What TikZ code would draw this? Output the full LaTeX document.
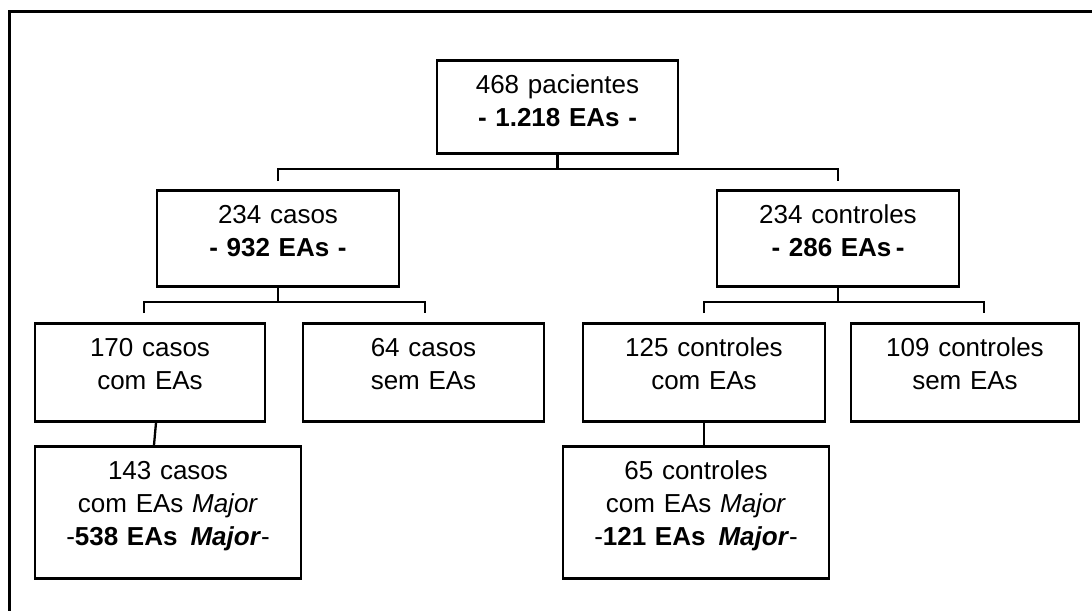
\documentclass[tikz,border=0pt]{standalone}
\usepackage{fontspec}
\setmainfont{Liberation Sans}
\usetikzlibrary{positioning}
\tikzset{
  basic/.style    = {draw, line width=2.8pt, align=center, anchor=north,
                     font=\fontsize{26}{33}\selectfont, inner xsep=4pt,
                     inner ysep=13pt, text height=20pt},
  raiz/.style     = {basic, text width=233pt, text depth=47pt},
  grupo/.style    = {basic, text width=234pt, text depth=50pt},
  subgrupo/.style = {basic, text depth=52pt},
  major/.style    = {basic, text width=258pt, text depth=86pt},
  conector/.style = {line width=2.3pt},
  moldura/.style  = {line width=3pt}
}

\begin{document}
\begin{tikzpicture}[x=1pt, y=-1pt]
\useasboundingbox (0,0) rectangle (1092,611);

% moldura
\draw[moldura] (1092,11) -- (9,11) -- (9,611);

% raiz inicial
\node[raiz] (r) at (557.5,59) {468 pacientes \\ \textbf{- 1.218 EAs -}};

% primeiro nivel
\node[grupo] (c) at (278,189) {234 casos \\ \textbf{- 932 EAs -}};
\node[grupo] (k) at (838,189) {234 controles \\ \textbf{- 286 EAs\,-}};

% segundo nivel
\begin{scope}[every node/.style={subgrupo}]
\node[text width=222pt] (c1) at (150,322) {170 casos \\ com EAs};
\node[text width=233pt] (c2) at (423.5,322) {64 casos \\ sem EAs};
\node[text width=234pt] (k1) at (704,322) {125 controles \\ com EAs};
\node[text width=220pt] (k2) at (965,322) {109 controles \\ sem EAs};
\end{scope}

% casos e controles com EAs Major
\node[major] (c11) at (168,445) {143 casos \\ com EAs \textit{Major} \\
  -\textbf{538 EAs\enspace\textit{Major}}-};
\node[major] (k11) at (696,445) {65 controles \\ com EAs \textit{Major} \\
  -\textbf{121 EAs\enspace\textit{Major}}-};

% pontas soltas acima das caixas
\coordinate (sc) at ([yshift=8pt]c.north);
\coordinate (sk) at ([yshift=8pt]k.north);
\foreach \n/\dx in {c1/-6, c2/1.5, k1/0, k2/19}
  \coordinate (s\n) at ([xshift=\dx pt, yshift=9pt]\n.north);

\draw[conector] (r.south) -- ++(0,14) coordinate (mr);
\draw[conector] (sc) |- (mr) -| (sk);

\foreach \p in {c,k} {
  \draw[conector] (\p.south) -- ++(0,14) coordinate (m\p);
  \draw[conector] (s\p1) |- (m\p) -| (s\p2);
}

\draw[conector] ([xshift=6pt]c1.south) -- ([xshift=-14pt]c11.north);
\draw[conector] (k1.south) -- (k1.south |- k11.north);
\end{tikzpicture}
\end{document}
